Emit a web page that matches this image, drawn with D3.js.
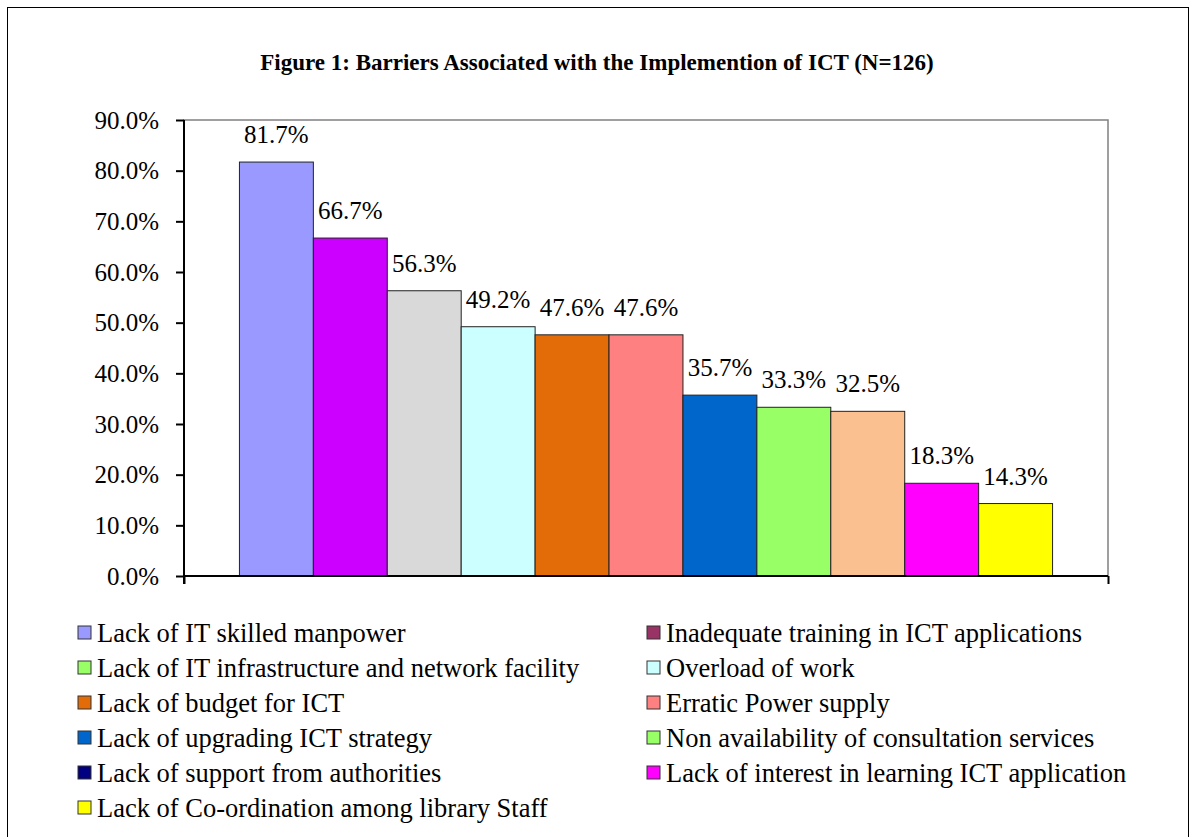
<!DOCTYPE html>
<html>
<head>
<meta charset="utf-8">
<script src="https://cdn.jsdelivr.net/npm/d3@7"></script>
<style>
  body { margin: 0; background: #fff; }
  text { font-family: "Times New Roman", "Liberation Serif", serif; fill: #000; }
</style>
</head>
<body>
<div id="vis"></div>
<script>
const width = 1195;
const height = 837;

// series (one bar each, all in a single category group)
const categories = [
  'Lack of IT skilled manpower',
  'Inadequate training in ICT applications',
  'Lack of IT infrastructure and network facility',
  'Overload of work',
  'Lack of budget for ICT',
  'Erratic Power supply',
  'Lack of upgrading ICT strategy',
  'Non availability of consultation services',
  'Lack of support from authorities',
  'Lack of interest in learning ICT application',
  'Lack of Co-ordination among library Staff'
];
const values = [81.7, 66.7, 56.3, 49.2, 47.6, 47.6, 35.7, 33.3, 32.5, 18.3, 14.3];
const barColors = ['#9999FF', '#CC00FF', '#D9D9D9', '#CCFFFF', '#E36C09', '#FF8080',
                   '#0066CC', '#99FF66', '#FAC090', '#FF00FF', '#FFFF00'];
// legend swatches do not all match the bars in the original
const legendColors = ['#9999FF', '#993366', '#99FF66', '#CCFFFF', '#E36C09', '#FF8080',
                      '#0066CC', '#99FF66', '#000080', '#FF00FF', '#FFFF00'];
const yTicks = [0, 10, 20, 30, 40, 50, 60, 70, 80, 90];

const plot = {left: 184, right: 1108, top: 120, bottom: 576};

const svg = d3.select('#vis')
  .append('svg')
  .attr('width', width)
  .attr('height', height);

// outer frame
svg.append('rect')
  .attr('x', 7.5).attr('y', 7.5)
  .attr('width', 1181).attr('height', 850)
  .style('fill', 'none')
  .style('stroke', '#000')
  .style('stroke-width', 1);

// title
svg.append('text')
  .attr('x', 597)
  .attr('y', 70)
  .attr('text-anchor', 'middle')
  .style('font-size', '23px')
  .style('font-weight', 'bold')
  .text('Figure 1: Barriers Associated with the Implemention of ICT (N=126)');

const y = d3.scaleLinear().domain([0, 90]).range([plot.bottom, plot.top]);
const x = d3.scaleBand()
  .domain(categories)
  .range([plot.left, plot.right])
  .paddingInner(0)
  .paddingOuter(0.75);

// plot area border (top + right grey)
svg.append('rect')
  .attr('x', plot.left).attr('y', plot.top)
  .attr('width', plot.right - plot.left)
  .attr('height', plot.bottom - plot.top)
  .style('fill', 'none')
  .style('stroke', '#808080')
  .style('stroke-width', 1.5);

// bars
svg.selectAll('rect.bar')
  .data(values)
  .join('rect')
  .attr('class', 'bar')
  .attr('x', (d, i) => x(categories[i]))
  .attr('y', d => y(d))
  .attr('width', x.bandwidth())
  .attr('height', d => y(0) - y(d))
  .style('fill', (d, i) => barColors[i])
  .style('stroke', '#222')
  .style('stroke-width', 1);

// value labels
svg.selectAll('text.val')
  .data(values)
  .join('text')
  .attr('class', 'val')
  .attr('x', (d, i) => x(categories[i]) + x.bandwidth() / 2)
  .attr('y', d => y(d) - 19)
  .attr('text-anchor', 'middle')
  .style('font-size', '25px')
  .text(d => d.toFixed(1) + '%');

// y axis
const yAxis = d3.axisLeft(y)
  .tickValues(yTicks)
  .tickSize(8)
  .tickPadding(17)
  .tickFormat(d => d.toFixed(1) + '%');

svg.append('g')
  .attr('transform', `translate(${plot.left},0)`)
  .call(yAxis)
  .call(g => g.select('.domain').attr('d', `M0,${plot.top}V${plot.bottom + 8}`))
  .call(g => g.selectAll('path, line').style('stroke', '#000').style('stroke-width', 2))
  .call(g => g.selectAll('text')
    .style('font-family', '"Times New Roman", "Liberation Serif", serif')
    .style('font-size', '25px'));

// x axis: line with end ticks only
const xAxisScale = d3.scaleLinear().domain([0, 1]).range([plot.left, plot.right]);
svg.append('g')
  .attr('transform', `translate(0,${plot.bottom})`)
  .call(d3.axisBottom(xAxisScale).tickValues([0, 1]).tickSize(8).tickFormat(''))
  .call(g => g.select('.domain').attr('d', `M${plot.left},0H${plot.right}`))
  .call(g => g.selectAll('path, line').style('stroke', '#000').style('stroke-width', 2));

// legend: two columns, row-major
const legend = svg.append('g');
const item = legend.selectAll('g')
  .data(categories)
  .join('g')
  .attr('transform', (d, i) => {
    const col = i % 2, row = Math.floor(i / 2);
    return `translate(${col === 0 ? 78 : 647},${633 + row * 35})`;
  });

item.append('rect')
  .attr('x', 0).attr('y', -7)
  .attr('width', 13).attr('height', 13)
  .style('fill', (d, i) => legendColors[i])
  .style('stroke', '#333')
  .style('stroke-width', 1);

item.append('text')
  .attr('x', 19)
  .attr('y', 9)
  .style('font-size', '26.5px')
  .text(d => d);
</script>
</body>
</html>
